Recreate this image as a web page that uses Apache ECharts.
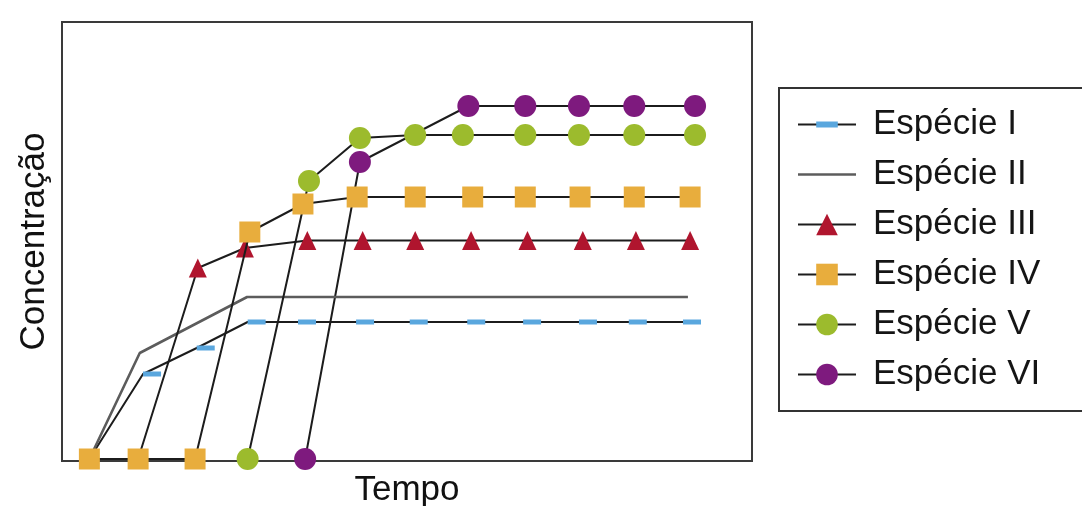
<!DOCTYPE html>
<html>
<head>
<meta charset="utf-8">
<script src="https://cdn.jsdelivr.net/npm/echarts@6/dist/echarts.min.js"></script>
<style>
html,body{margin:0;padding:0;background:#ffffff;}
#chart{width:1082px;height:506px;}
</style>
</head>
<body>
<div id="chart"></div>
<script>
// ---- data (time units, concentration units) ----
const seriesNames = ['Espécie I', 'Espécie II', 'Espécie III', 'Espécie IV', 'Espécie V', 'Espécie VI'];
const xAxisTitle = 'Tempo';
const yAxisTitle = 'Concentração';

const timeI  = [0, 0.98, 1.96, 2.89, 3.81, 4.87, 5.85, 6.90, 7.92, 8.94, 9.85, 10.84];
const concI  = [0, 21.25, 27.75, 34.25, 34.25, 34.25, 34.25, 34.25, 34.25, 34.25, 34.25, 34.25];

const timeII = [0, 0.92, 2.88, 10.93];
const concII = [0, 26.5, 40.5, 40.5];

const timeIII = [0.89, 1.98, 2.84, 3.98, 4.99, 5.95, 6.97, 8.00, 9.01, 9.98, 10.97];
const concIII = [0, 47.75, 52.75, 54.6, 54.6, 54.6, 54.6, 54.6, 54.6, 54.6, 54.6];

const timeIV = [0, 0.89, 1.93, 2.93, 3.90, 4.89, 5.95, 7.00, 7.96, 8.96, 9.95, 10.97];
const concIV = [0, 0, 0, 56.75, 63.75, 65.5, 65.5, 65.5, 65.5, 65.5, 65.5, 65.5];

const timeV = [2.89, 4.01, 4.94, 5.95, 6.82, 7.96, 8.94, 9.95, 11.06];
const concV = [0, 69.5, 80.25, 81, 81, 81, 81, 81, 81];

const timeVI = [3.94, 4.94, 6.92, 7.96, 8.94, 9.95, 11.06];
const concVI = [0, 74.25, 88.25, 88.25, 88.25, 88.25, 88.25];

// ---- build ----
function pairs(t, c) { return t.map((v, i) => [v, c[i]]); }

const FONT = "'Liberation Sans', Arial, Helvetica, sans-serif";
const LINE = '#1c1c1c';
const DASH = 'path://M0,0M18,18M0,6.5L18,6.5L18,11.5L0,11.5Z';
const PLAIN_LINE_ICON = 'path://M0,0M58,27M0,12.2L58,12.2L58,14.8L0,14.8Z';

const legendData = seriesNames.map((n, i) => (i === 1 ? {name: n, icon: PLAIN_LINE_ICON} : {name: n}));
// species I: the marker of its starting point is not drawn in the reference
const dataI = pairs(timeI, concI).map((p, i) => (i === 0 ? {value: p, symbol: 'none'} : p));

const chart = echarts.init(document.getElementById('chart'), null, {renderer: 'canvas'});
chart.setOption({
  animation: false,
  backgroundColor: '#ffffff',
  grid: {
    left: 62, top: 22, right: 330, bottom: 45,
    outerBoundsMode: 'none', containLabel: false,
    show: true, borderColor: '#3a3a3a', borderWidth: 2, backgroundColor: 'transparent'
  },
  xAxis: {
    type: 'value', min: -0.5, max: 12.1,
    name: xAxisTitle, nameLocation: 'middle', nameGap: 12,
    nameTextStyle: {fontSize: 35, color: '#111', fontFamily: FONT},
    axisLine: {show: false}, axisTick: {show: false}, axisLabel: {show: false}, splitLine: {show: false}
  },
  yAxis: {
    type: 'value', min: -0.5, max: 109.25,
    name: yAxisTitle, nameLocation: 'middle', nameGap: 10,
    nameTextStyle: {fontSize: 35, color: '#111', fontFamily: FONT},
    axisLine: {show: false}, axisTick: {show: false}, axisLabel: {show: false}, splitLine: {show: false}
  },
  legend: {
    orient: 'vertical', left: 779, top: 88,
    itemWidth: 58, itemHeight: 27, itemGap: 15,
    padding: [19, 150, 19, 18],
    borderColor: '#333', borderWidth: 2, backgroundColor: '#fff',
    textStyle: {fontSize: 35, color: '#151515', fontFamily: FONT, padding: [0, 0, 0, 12], lineHeight: 34},
    data: legendData
  },
  series: [
    {
      name: seriesNames[0], type: 'line', data: dataI, z: 2,
      symbol: DASH, symbolSize: 18, symbolOffset: [9, 0],
      itemStyle: {color: '#5aa7de'},
      lineStyle: {color: LINE, width: 2}
    },
    {
      name: seriesNames[1], type: 'line', data: pairs(timeII, concII), z: 2,
      symbol: 'none',
      itemStyle: {color: '#5c5c5c'},
      lineStyle: {color: '#5c5c5c', width: 2.6}
    },
    {
      name: seriesNames[2], type: 'line', data: pairs(timeIII, concIII), z: 2,
      symbol: 'triangle', symbolSize: [18, 19],
      itemStyle: {color: '#b0152e'},
      lineStyle: {color: LINE, width: 2}
    },
    {
      name: seriesNames[3], type: 'line', data: pairs(timeIV, concIV), z: 5,
      symbol: 'rect', symbolSize: 21,
      itemStyle: {color: '#e8ad3d'},
      lineStyle: {color: LINE, width: 2}
    },
    {
      name: seriesNames[4], type: 'line', data: pairs(timeV, concV), z: 3,
      symbol: 'circle', symbolSize: 22,
      itemStyle: {color: '#9cbb2d'},
      lineStyle: {color: LINE, width: 2}
    },
    {
      name: seriesNames[5], type: 'line', data: pairs(timeVI, concVI), z: 1,
      symbol: 'circle', symbolSize: 22,
      itemStyle: {color: '#7e1a7e'},
      lineStyle: {color: LINE, width: 2}
    }
  ]
});
</script>
</body>
</html>
